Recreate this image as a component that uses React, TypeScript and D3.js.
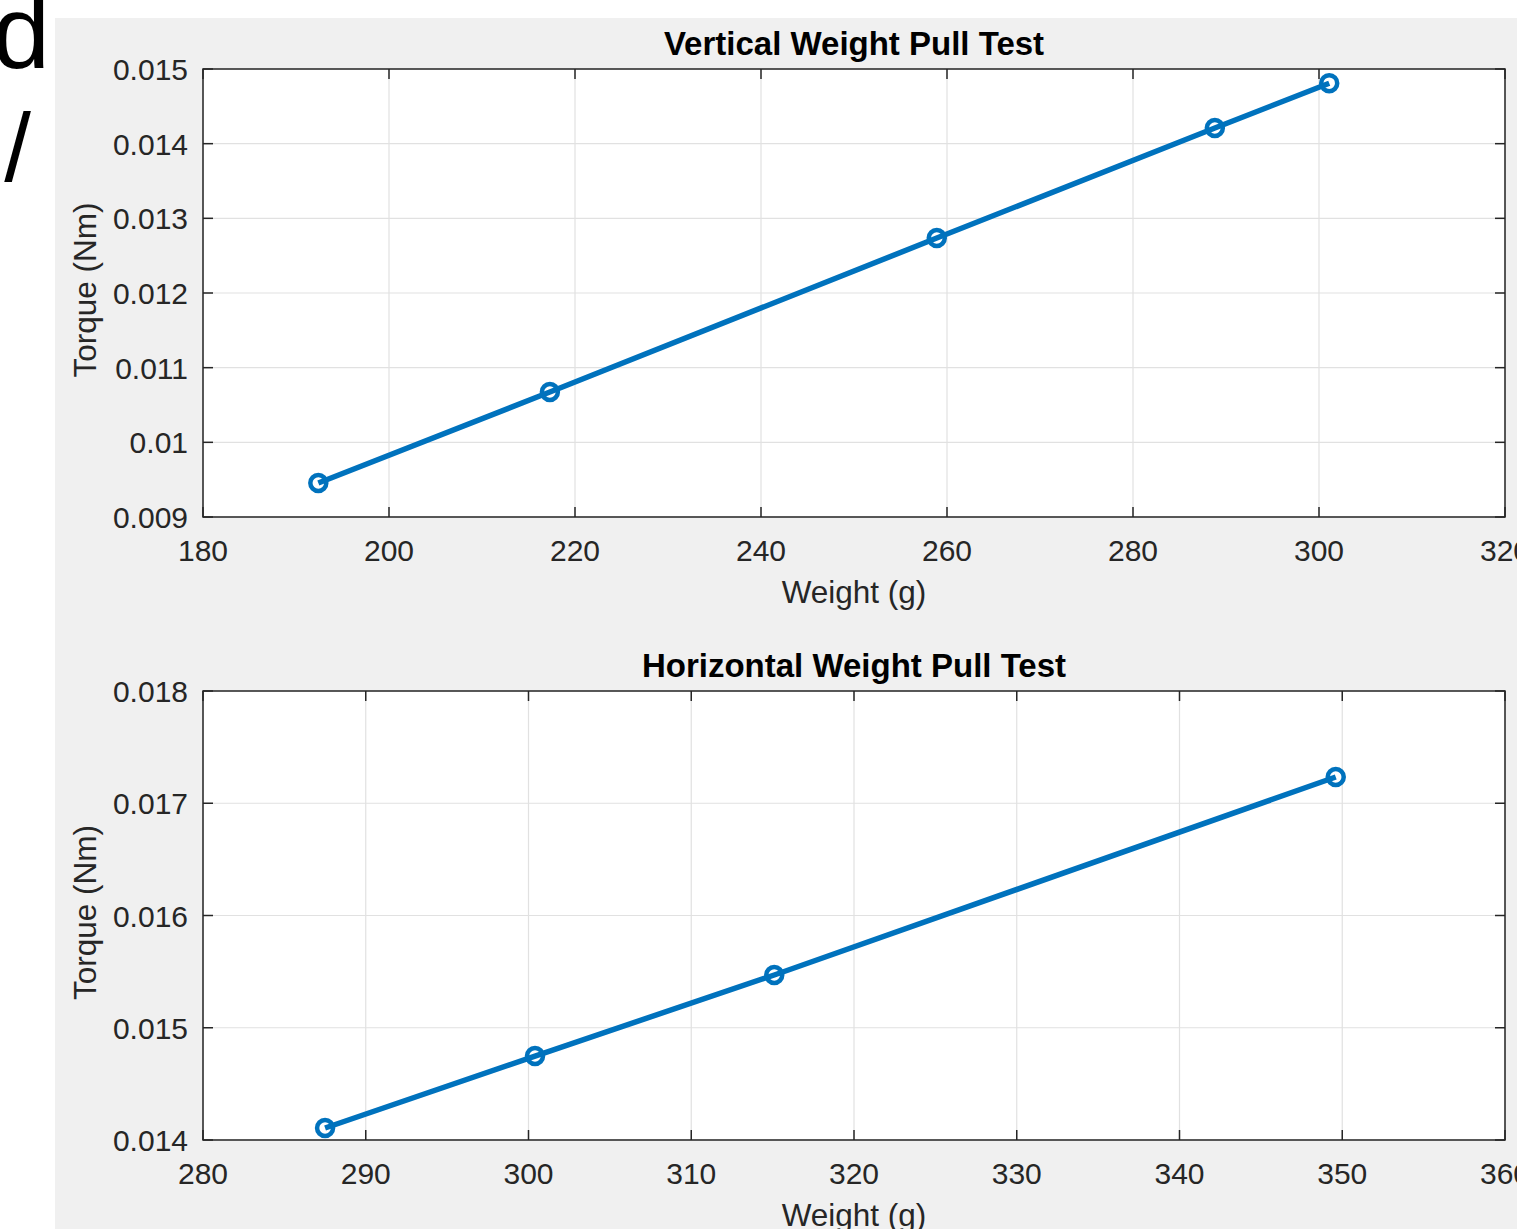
import React from "react";
import * as d3 from "d3";

const topWeight = [192.4, 217.3, 258.9, 288.8, 301.1];
const topTorque = [0.009455, 0.010674, 0.012736, 0.01421, 0.01481];
const topXTicks = [180, 200, 220, 240, 260, 280, 300, 320];
const topYTicks = [0.009, 0.01, 0.011, 0.012, 0.013, 0.014, 0.015];
const topYLabels = ["0.009", "0.01", "0.011", "0.012", "0.013", "0.014", "0.015"];

const bottomWeight = [287.5, 300.4, 315.1, 349.6];
const bottomTorque = [0.014107, 0.014748, 0.01547, 0.017234];
const bottomXTicks = [280, 290, 300, 310, 320, 330, 340, 350, 360];
const bottomYTicks = [0.014, 0.015, 0.016, 0.017, 0.018];
const bottomYLabels = ["0.014", "0.015", "0.016", "0.017", "0.018"];

const FONT = "'Liberation Sans', Arial, Helvetica, sans-serif";
const AX = "#262626";
const BLUE = "#0072BD";

type PanelProps = {
  title: string;
  xs: number[];
  ys: number[];
  xTicks: number[];
  yTicks: number[];
  yLabels: string[];
  left: number;
  right: number;
  top: number;
  bottom: number;
};

function Panel(p: PanelProps) {
  const x = d3
    .scaleLinear()
    .domain([p.xTicks[0], p.xTicks[p.xTicks.length - 1]])
    .range([p.left, p.right]);
  const y = d3
    .scaleLinear()
    .domain([p.yTicks[0], p.yTicks[p.yTicks.length - 1]])
    .range([p.bottom, p.top]);
  const line = d3
    .line<number>()
    .x((_, i) => x(p.xs[i]))
    .y((d) => y(d));
  const tl = 10;
  const cx = (p.left + p.right) / 2;
  const cy = (p.top + p.bottom) / 2;
  return (
    <g>
      <rect x={p.left} y={p.top} width={p.right - p.left} height={p.bottom - p.top} fill="#ffffff" />
      {p.xTicks.map((t) => (
        <line key={"gx" + t} x1={x(t)} x2={x(t)} y1={p.top} y2={p.bottom} stroke="#e1e1e1" strokeWidth={1.2} />
      ))}
      {p.yTicks.map((t) => (
        <line key={"gy" + t} x1={p.left} x2={p.right} y1={y(t)} y2={y(t)} stroke="#e1e1e1" strokeWidth={1.2} />
      ))}
      {p.xTicks.map((t) => (
        <g key={"tx" + t}>
          <line x1={x(t)} x2={x(t)} y1={p.bottom} y2={p.bottom - tl} stroke={AX} strokeWidth={1.5} />
          <line x1={x(t)} x2={x(t)} y1={p.top} y2={p.top + tl} stroke={AX} strokeWidth={1.5} />
          <text x={x(t)} y={p.bottom + 44} textAnchor="middle" fontSize={30} fill={AX} fontFamily={FONT}>
            {String(t)}
          </text>
        </g>
      ))}
      {p.yTicks.map((t, i) => (
        <g key={"ty" + t}>
          <line x1={p.left} x2={p.left + tl} y1={y(t)} y2={y(t)} stroke={AX} strokeWidth={1.5} />
          <line x1={p.right} x2={p.right - tl} y1={y(t)} y2={y(t)} stroke={AX} strokeWidth={1.5} />
          <text x={p.left - 15} y={y(t) + 11} textAnchor="end" fontSize={30} fill={AX} fontFamily={FONT}>
            {p.yLabels[i]}
          </text>
        </g>
      ))}
      <rect x={p.left} y={p.top} width={p.right - p.left} height={p.bottom - p.top} fill="none" stroke={AX} strokeWidth={1.5} />
      <path d={line(p.ys) || ""} fill="none" stroke={BLUE} strokeWidth={5.5} strokeLinejoin="round" />
      {p.ys.map((v, i) => (
        <circle key={"m" + i} cx={x(p.xs[i])} cy={y(v)} r={8} fill="none" stroke={BLUE} strokeWidth={4.5} />
      ))}
      <text x={cx} y={p.top - 14} textAnchor="middle" fontSize={33} fontWeight="bold" fill="#000" fontFamily={FONT}>
        {p.title}
      </text>
      <text x={cx} y={p.bottom + 86} textAnchor="middle" fontSize={31.5} fill={AX} fontFamily={FONT}>
        Weight (g)
      </text>
      <text
        transform={`translate(96,${cy - 3}) rotate(-90)`}
        textAnchor="middle"
        fontSize={31.5}
        fill={AX}
        fontFamily={FONT}
      >
        Torque (Nm)
      </text>
    </g>
  );
}

export default function App() {
  return (
    <svg
      width={1517}
      height={1229}
      style={{ position: "absolute", left: 0, top: 0, overflow: "hidden" }}
    >
      <rect x={0} y={0} width={1517} height={1229} fill="#ffffff" />
      <rect x={55} y={18} width={1462} height={1211} fill="#f0f0f0" />
      <text x={50} y={68} textAnchor="end" fontSize={104} fill="#000" fontFamily={FONT}>
        d
      </text>
      <text x={31} y={181} textAnchor="end" fontSize={96} fill="#000" fontFamily={FONT}>
        /
      </text>
      <Panel
        title="Vertical Weight Pull Test"
        xs={topWeight}
        ys={topTorque}
        xTicks={topXTicks}
        yTicks={topYTicks}
        yLabels={topYLabels}
        left={203}
        right={1505}
        top={69}
        bottom={517}
      />
      <Panel
        title="Horizontal Weight Pull Test"
        xs={bottomWeight}
        ys={bottomTorque}
        xTicks={bottomXTicks}
        yTicks={bottomYTicks}
        yLabels={bottomYLabels}
        left={203}
        right={1505}
        top={691}
        bottom={1140}
      />
    </svg>
  );
}
